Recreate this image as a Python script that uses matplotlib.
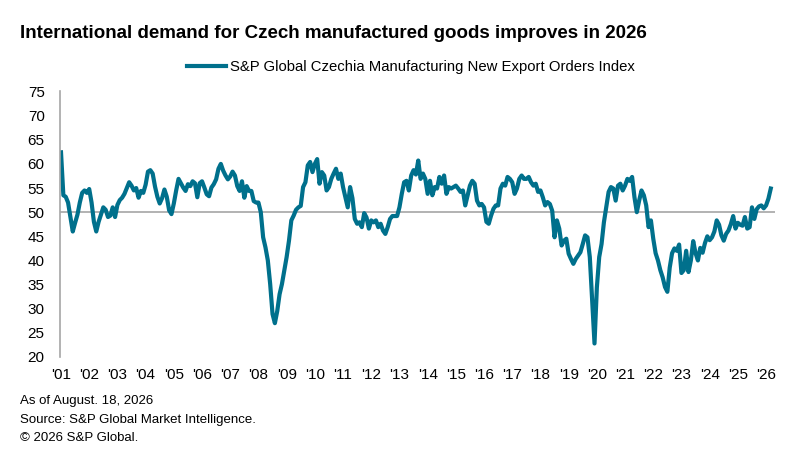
import numpy as np
import matplotlib
matplotlib.use("Agg")
import matplotlib.pyplot as plt

plt.rcParams['font.family'] = ['Liberation Sans', 'DejaVu Sans']

# 月度指数, 2001年1月起
idx_2001_2004 = [62.4, 53.5, 53.2, 52.0, 49.0, 46.0, 47.8, 49.5, 52.0, 54.0, 54.5, 54.0,
                 54.8, 52.0, 48.0, 46.0, 48.0, 49.5, 51.0, 50.5, 49.0, 49.3, 51.0, 49.0,
                 51.5, 52.5, 53.0, 53.8, 55.0, 56.2, 55.5, 54.5, 55.0, 53.0, 54.4, 54.0,
                 55.7, 58.4, 58.7, 58.0, 55.3, 53.2, 51.8, 52.9, 54.7, 53.2, 50.4, 49.6]
idx_2005_2008 = [51.8, 54.5, 56.9, 56.0, 55.1, 54.4, 55.8, 55.4, 56.4, 56.0, 53.1, 56.0,
                 56.4, 55.1, 53.7, 53.3, 55.1, 55.8, 56.8, 59.0, 60.0, 58.6, 57.6, 56.8,
                 57.4, 58.4, 57.6, 55.4, 54.4, 56.4, 53.0, 55.4, 54.4, 54.4, 52.3, 52.0,
                 52.0, 50.0, 44.8, 42.7, 40.0, 35.1, 28.9, 27.0, 29.5, 33.0, 35.1, 37.9]
idx_2009_2012 = [40.7, 44.1, 48.3, 49.3, 50.5, 51.0, 51.3, 55.2, 56.2, 59.7, 60.4, 58.3,
                 60.0, 61.0, 55.9, 58.3, 57.6, 54.5, 55.2, 56.9, 58.0, 59.0, 56.9, 58.0,
                 55.2, 53.1, 51.0, 55.2, 52.9, 48.6, 47.6, 47.9, 46.9, 49.8, 48.9, 46.6,
                 48.3, 47.9, 48.3, 46.9, 47.6, 46.2, 45.5, 46.9, 48.6, 49.2, 49.2, 49.2]
idx_2013_2016 = [51.0, 53.8, 56.2, 56.5, 54.5, 57.6, 58.7, 57.8, 60.7, 56.9, 58.0, 56.9,
                 53.8, 56.5, 53.5, 55.2, 54.9, 57.3, 55.9, 57.6, 53.8, 55.2, 54.9, 55.2,
                 55.5, 54.9, 54.2, 54.5, 51.4, 53.5, 55.5, 56.5, 55.9, 52.4, 51.4, 51.7,
                 51.0, 48.0, 47.6, 49.3, 50.7, 51.4, 51.4, 54.9, 55.9, 55.5, 57.3, 56.9]
idx_2017_2020 = [56.2, 53.8, 54.9, 56.9, 57.6, 56.9, 56.9, 57.3, 56.2, 55.5, 55.9, 54.2,
                 54.5, 53.1, 51.4, 52.1, 51.7, 50.3, 44.8, 48.3, 46.6, 43.1, 44.1, 44.5,
                 41.4, 40.3, 39.3, 40.3, 41.0, 41.7, 43.4, 45.2, 44.8, 40.7, 31.7, 22.8,
                 34.4, 40.7, 43.4, 47.9, 51.0, 54.2, 55.2, 54.9, 52.4, 55.5, 55.9, 54.5]
idx_2021_2024 = [55.5, 56.9, 56.5, 57.3, 53.1, 50.0, 52.4, 54.5, 53.5, 51.4, 46.9, 48.3,
                 44.5, 41.5, 40.0, 38.0, 36.5, 34.5, 33.5, 38.5, 41.5, 42.5, 42.0, 43.3,
                 37.4, 38.0, 42.0, 37.6, 40.0, 44.0, 41.5, 40.0, 42.6, 41.6, 43.6, 45.0,
                 44.2, 44.8, 46.0, 48.3, 47.4, 45.2, 44.1, 45.5, 46.2, 47.5, 49.2, 46.6]
idx_2025_2026 = [47.8, 47.4, 47.2, 49.0, 46.6, 46.9, 51.0, 48.6, 50.6, 51.2, 51.4, 50.8,
                 51.4, 52.8, 54.9]

values = (idx_2001_2004 + idx_2005_2008 + idx_2009_2012 + idx_2013_2016 +
          idx_2017_2020 + idx_2021_2024 + idx_2025_2026)
year_labels = ["'%02d" % y for y in range(1, 27)]

teal = '#00708C'
grey = '#A6A6A6'

fig = plt.figure(figsize=(8.09, 4.68), dpi=100)
ax = fig.add_axes([60 / 809, 1 - 357 / 468, 715 / 809, (357 - 91.5) / 468])

x = np.arange(len(values))
ax.axhline(50, color=grey, lw=1.2, zorder=1)
line, = ax.plot(x, values, color=teal, lw=3.0, solid_joinstyle='round',
                label='S&P Global Czechia Manufacturing New Export Orders Index', zorder=2)

ax.set_xlim(-0.43, 303.8)
ax.set_ylim(20, 75)
ax.set_yticks(np.arange(20, 76, 5))
ax.set_xticks(np.arange(0, 301, 12))
ax.set_xticklabels(year_labels)
ax.tick_params(axis='both', length=0, labelsize=11, colors='#000000')
ax.tick_params(axis='y', pad=11)
ax.tick_params(axis='x', pad=8)

for s in ['top', 'right', 'bottom']:
    ax.spines[s].set_visible(False)
ax.spines['left'].set_color(grey)
ax.spines['left'].set_linewidth(1.2)

fig.text(20 / 809, 1 - 33 / 468, 'International demand for Czech manufactured goods improves in 2026',
         fontsize=13.5, fontweight='bold', va='center', ha='left')

fig.legend(handles=[line], loc='center', bbox_to_anchor=(411 / 809, 1 - 67 / 468),
           frameon=False, fontsize=10.7, handlelength=2.6, handletextpad=0.25)

notes = ['As of August. 18, 2026', 'Source: S&P Global Market Intelligence.', '\u00a9 2026 S&P Global.']
for k, t in enumerate(notes):
    fig.text(20 / 809, 1 - (401 + 18.5 * k) / 468, t, fontsize=9.5, va='center', ha='left')

fig.savefig('out.png', dpi=100)
